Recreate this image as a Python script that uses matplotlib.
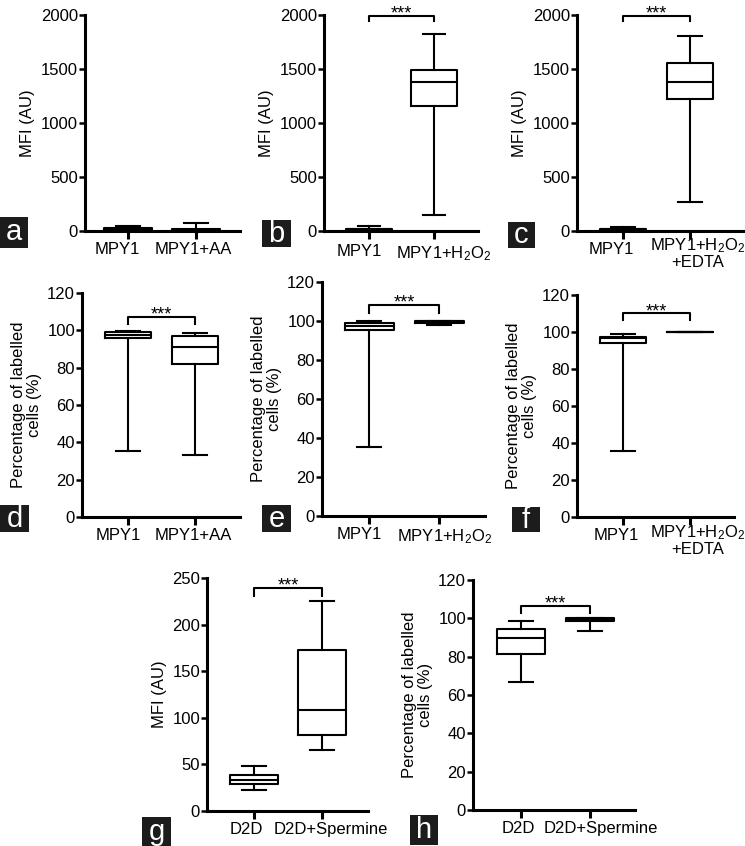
import matplotlib
matplotlib.use("Agg")
import matplotlib.pyplot as plt
from matplotlib.patches import Rectangle
from matplotlib.transforms import ScaledTranslation

plt.rcParams['font.family'] = ['Liberation Sans', 'DejaVu Sans']
plt.rcParams['mathtext.fontset'] = 'custom'
plt.rcParams['mathtext.rm'] = 'Liberation Sans'
plt.rcParams['mathtext.it'] = 'Liberation Sans'
plt.rcParams['mathtext.default'] = 'regular'

# ---------------- data (min, Q1, median, Q3, max) ----------------
cats_a = ["MPY1", "MPY1+AA"]
cats_b = ["MPY1", "MPY1+H$_2$O$_2$"]
cats_c = ["MPY1", "MPY1+H$_2$O$_2$\n+EDTA"]
cats_g = ["D2D", "D2D+Spermine"]

a_mpy1 = [0, 5, 15, 28, 50]
a_aa = [0, 5, 12, 22, 72]
b_mpy1 = [0, 5, 15, 22, 46]
b_h2o2 = [150, 1160, 1375, 1495, 1825]
c_mpy1 = [0, 5, 15, 22, 40]
c_edta = [265, 1220, 1380, 1555, 1810]
d_mpy1 = [35.5, 96, 97.5, 99, 99.8]
d_aa = [33, 82, 91, 97, 98.5]
e_mpy1 = [35.5, 95.5, 97.5, 99, 99.8]
e_h2o2 = [98, 99, 99.8, 100, 100]
f_mpy1 = [35.5, 94, 96.5, 97.5, 99]
f_edta = [100, 100, 100, 100, 100]
g_d2d = [22, 29, 33, 38.5, 48]
g_sperm = [65, 82, 108, 173, 225]
h_d2d = [67, 81.5, 90, 94.5, 98.5]
h_sperm = [93.5, 98.5, 99.5, 100, 100]

mfi_ticks = [0, 500, 1000, 1500, 2000]
pct_ticks = [0, 20, 40, 60, 80, 100, 120]
g_ticks = [0, 50, 100, 150, 200, 250]

mfi_label = "MFI (AU)"
pct_label = "Percentage of labelled\ncells (%)"

W, H = 745, 846
fig = plt.figure(figsize=(W / 100, H / 100), dpi=100)

FS = 12
LW = 1.5


def stats(v, label):
    return dict(whislo=v[0], q1=v[1], med=v[2], q3=v[3], whishi=v[4], label=label, fliers=[])


def panel(px, ticks_px, cats, data, yticks, ylabel, bracket=None, letter=None, lbox=None,
          offs=((0, 0), (0, 0))):
    left, right, top, bottom = px
    ax = fig.add_axes([left / W, 1 - bottom / H, (right - left) / W, (bottom - top) / H])
    t0, t1 = ticks_px
    sp = t1 - t0
    st = [stats(d, c) for d, c in zip(data, cats)]
    lp = dict(color='black', linewidth=LW)
    ax.bxp(st, positions=[0, 1], widths=0.7, capwidths=0.35, showfliers=False,
           boxprops=lp, whiskerprops=lp, capprops=lp, medianprops=lp,
           manage_ticks=False)
    ax.set_xlim((left - t0) / sp, (right - t0) / sp)
    ax.set_ylim(yticks[0], yticks[-1])
    ax.set_xticks([0, 1])
    ax.set_xticklabels(cats, fontsize=FS, linespacing=1.0)
    ax.set_yticks(yticks)
    ax.set_yticklabels([str(t) for t in yticks], fontsize=FS)
    for s in ['top', 'right']:
        ax.spines[s].set_visible(False)
    for s in ['left', 'bottom']:
        ax.spines[s].set_linewidth(2.2)
    ax.tick_params(axis='y', length=4, width=1.8, pad=1)
    ax.tick_params(axis='x', length=6, width=2.2, pad=2)
    for lab, (dx, dy) in zip(ax.get_xticklabels(), offs):
        lab.set_transform(lab.get_transform() +
                          ScaledTranslation(dx / 100, dy / 100, fig.dpi_scale_trans))
    ax.set_ylabel(ylabel, fontsize=FS, labelpad=4, linespacing=1.05)
    if bracket is not None:
        yb, yl = bracket
        ax.plot([0, 0, 1, 1], [yl, yb, yb, yl], color='black', lw=LW, clip_on=False)
        ax.annotate("***", xy=(0.5, yb), xytext=(0, -1.8), textcoords='offset points',
                    ha='center', va='baseline', fontsize=13, annotation_clip=False)
    if letter is not None:
        x0, x1, y0, y1 = lbox
        fig.patches.append(Rectangle((x0 / W, 1 - y1 / H), (x1 - x0) / W, (y1 - y0) / H,
                                     transform=fig.transFigure, facecolor='#1c1c1c',
                                     edgecolor='none'))
        fig.text((x0 + x1) / 2 / W, 1 - (y0 + y1) / 2 / H, letter, color='white',
                 fontsize=21, ha='center', va='center')
    return ax


panel((85, 240, 15, 231), (128, 196), cats_a, [a_mpy1, a_aa], mfi_ticks, mfi_label,
      None, 'a', (0, 28, 217, 248), ((-11, 0), (-3, 0)))
panel((324, 478, 15, 231), (369, 434), cats_b, [b_mpy1, b_h2o2], mfi_ticks, mfi_label,
      (1995, 1945), 'b', (262, 291, 220, 247), ((-10, -2), (10, -2)))
panel((577, 743, 15, 231), (623, 690), cats_c, [c_mpy1, c_edta], mfi_ticks, mfi_label,
      (1995, 1945), 'c', (508, 535, 222, 248), ((-12, 0), (8, 6)))
panel((82, 240, 293, 517), (128, 195), cats_a, [d_mpy1, d_aa], pct_ticks, pct_label,
      (107, 103.5), 'd', (0, 29, 505, 532), ((-10, 0), (-1.5, 0)))
panel((322, 485, 282, 516), (369, 439), cats_b, [e_mpy1, e_h2o2], pct_ticks, pct_label,
      (108, 104), 'e', (262, 291, 505, 532), ((-10, 0), (6, 0)))
panel((577, 734, 295, 517), (623, 690), cats_c, [f_mpy1, f_edta], pct_ticks, pct_label,
      (110, 106.5), 'f', (512, 540, 507, 532), ((-7, 0), (8, 5)))
panel((207, 368, 578, 811), (254, 322), cats_g, [g_d2d, g_sperm], g_ticks, mfi_label,
      (239, 231), 'g', (142, 171, 817, 846), ((-8, 0), (9, 0)))
panel((473, 635, 580, 810), (521, 590), cats_g, [h_d2d, h_sperm], pct_ticks, pct_label,
      (106.5, 103), 'h', (410, 438, 815, 845), ((-3, 0), (11, 0)))

fig.savefig("out.png", dpi=100)
